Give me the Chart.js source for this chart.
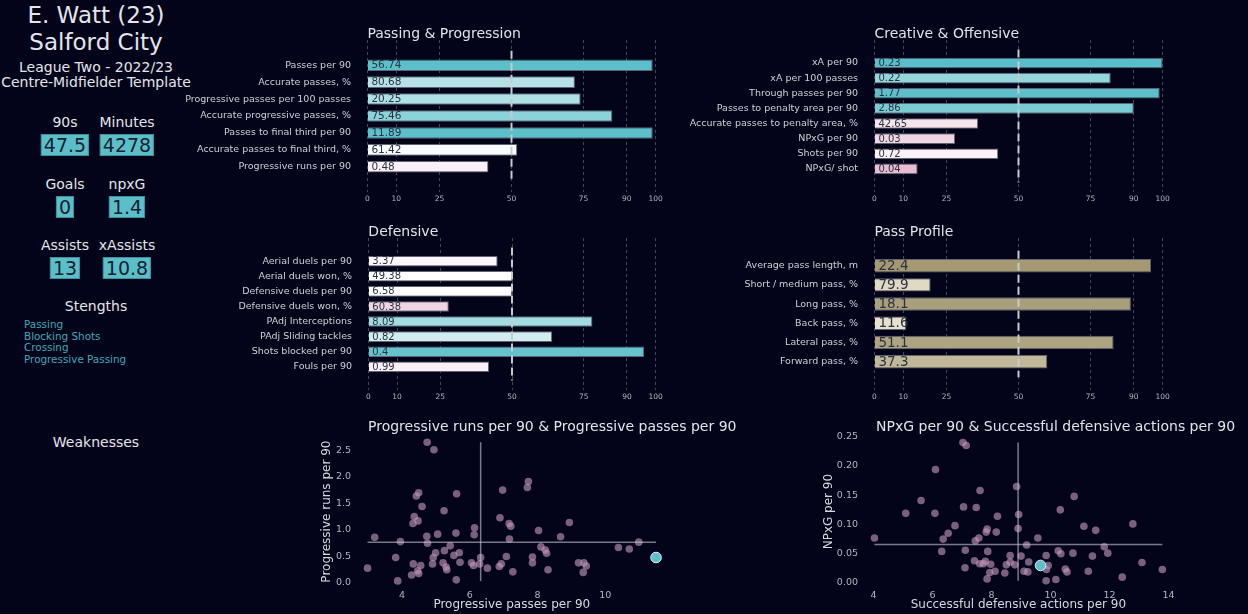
<!DOCTYPE html>
<html lang="en">
<head>
<meta charset="UTF-8">
<title>E. Watt - Salford City</title>
<script src="https://cdn.jsdelivr.net/npm/chart.js"></script>
<style>
  body { margin: 0; background: #03041a; }
  #page {
    position: relative;
    width: 1248px;
    height: 614px;
    background: #03041a;
    font-family: 'DejaVu Sans', sans-serif;
    color: #e4e4ea;
    overflow: hidden;
  }
  /* centred text blocks on the left */
  .c { position: absolute; transform: translate(-50%, -50%); white-space: nowrap; }
  .big { font-size: 23px; }
  .mid { font-size: 14px; }
  .box {
    background: #5bbfca;
    color: #1a2132;
    font-size: 19px;
    line-height: 20px;
    padding: 0 2px;
    border: 1px solid #3f8f99;
  }
  #strengths {
    position: absolute;
    left: 24px;
    top: 319px;
    font-size: 10.4px;
    line-height: 11.7px;
    color: #3fa9b6;
  }
  canvas { position: absolute; }
</style>
</head>
<body>
<div id="page">
  <div class="c big" style="left:96px;top:15px">E. Watt (23)</div>
  <div class="c big" style="left:96px;top:42px">Salford City</div>
  <div class="c mid" style="left:96px;top:67px">League Two - 2022/23</div>
  <div class="c mid" style="left:96px;top:82px">Centre-Midfielder Template</div>

  <div class="c mid" style="left:65px;top:122px">90s</div>
  <div class="c mid" style="left:127px;top:122px">Minutes</div>
  <div class="c box" style="left:65px;top:145px">47.5</div>
  <div class="c box" style="left:127px;top:145px">4278</div>

  <div class="c mid" style="left:65px;top:184px">Goals</div>
  <div class="c mid" style="left:127px;top:184px">npxG</div>
  <div class="c box" style="left:65px;top:207px">0</div>
  <div class="c box" style="left:127px;top:207px">1.4</div>

  <div class="c mid" style="left:65px;top:245px">Assists</div>
  <div class="c mid" style="left:127px;top:245px">xAssists</div>
  <div class="c box" style="left:65px;top:268px">13</div>
  <div class="c box" style="left:127px;top:268px">10.8</div>

  <div class="c mid" style="left:96px;top:306px">Stengths</div>
  <div id="strengths">Passing<br>Blocking Shots<br>Crossing<br>Progressive Passing</div>
  <div class="c mid" style="left:96px;top:442px">Weaknesses</div>

  <canvas id="passing" width="510" height="195" style="left:180px;top:15px"></canvas>
  <canvas id="creative" width="510" height="195" style="left:680px;top:15px"></canvas>
  <canvas id="defensive" width="510" height="195" style="left:180px;top:215px"></canvas>
  <canvas id="profile" width="510" height="195" style="left:680px;top:215px"></canvas>
  <canvas id="runsPasses" width="450" height="204" style="left:310px;top:410px"></canvas>
  <canvas id="npxgDef" width="448" height="204" style="left:800px;top:410px"></canvas>
</div>

<script>
  // ---- data ----
  const pctTicks = [0, 10, 25, 50, 75, 90, 100];

  const passingLabels = ['Passes per 90', 'Accurate passes, %', 'Progressive passes per 100 passes',
    'Accurate progressive passes, %', 'Passes to final third per 90', 'Accurate passes to final third, %',
    'Progressive runs per 90'];
  const passingValues = ['56.74', '80.68', '20.25', '75.46', '11.89', '61.42', '0.48'];
  const passingPct = [99, 72, 74, 85, 99, 52, 42];

  const creativeLabels = ['xA per 90', 'xA per 100 passes', 'Through passes per 90', 'Passes to penalty area per 90',
    'Accurate passes to penalty area, %', 'NPxG per 90', 'Shots per 90', 'NPxG/ shot'];
  const creativeValues = ['0.23', '0.22', '1.77', '2.86', '42.65', '0.03', '0.72', '0.04'];
  const creativePct = [100, 82, 99, 90, 36, 28, 43, 15];

  const defensiveLabels = ['Aerial duels per 90', 'Aerial duels won, %', 'Defensive duels per 90',
    'Defensive duels won, %', 'PAdj Interceptions', 'PAdj Sliding tackles', 'Shots blocked per 90', 'Fouls per 90'];
  const defensiveValues = ['3.37', '49.38', '6.58', '60.38', '8.09', '0.82', '0.4', '0.99'];
  const defensivePct = [45, 50, 50, 28, 78, 64, 96, 42];

  const profileLabels = ['Average pass length, m', 'Short / medium pass, %', 'Long pass, %',
    'Back pass, %', 'Lateral pass, %', 'Forward pass, %'];
  const profileValues = ['22.4', '79.9', '18.1', '11.6', '51.1', '37.3'];
  const profilePct = [96, 19.5, 89, 11, 83, 60];

  // progressive passes (x) vs progressive runs (y), league players
  const progPassesX = [4.74, 4.94, 7.73, 7.70, 6.97, 4.49, 4.42, 5.61, 4.59, 5.24,
    4.36, 4.47, 4.32, 6.89, 7.16, 7.21, 8.94, 6.14, 8.03, 6.13,
    3.19, 4.73, 5.05, 5.59, 8.68, 7.17, 3.95, 4.75, 10.99, 10.39,
    10.71, 5.42, 8.10, 8.23, 8.27, 5.25, 4.99, 5.69, 5.53, 3.81,
    4.92, 6.32, 7.08, 7.85, 4.90, 5.21, 5.71, 6.05, 6.11, 6.29,
    6.93, 6.87, 7.85, 9.21, 9.37, 9.44, 9.35, 4.33, 4.55, 4.46,
    4.49, 4.28, 2.98, 5.30, 5.32, 6.52, 7.27, 8.31, 3.87, 5.60];
  const progRunsY = [2.65, 2.51, 1.91, 1.80, 1.75, 1.70, 1.64, 1.68, 1.44, 1.36,
    1.25, 1.17, 1.12, 1.23, 1.12, 1.07, 1.14, 1.04, 0.99, 0.91,
    0.86, 0.88, 0.92, 0.94, 0.87, 0.83, 0.78, 0.75, 0.77, 0.67,
    0.64, 0.70, 0.68, 0.62, 0.56, 0.61, 0.57, 0.57, 0.52, 0.48,
    0.48, 0.48, 0.50, 0.49, 0.36, 0.38, 0.39, 0.38, 0.33, 0.36,
    0.36, 0.31, 0.38, 0.38, 0.38, 0.32, 0.20, 0.36, 0.33, 0.23,
    0.18, 0.15, 0.28, 0.30, 0.25, 0.28, 0.21, 0.25, 0.04, 0.06];
  const playerProgPasses = 11.5;
  const playerProgRuns = 0.48;
  const avgProgPasses = 6.32;
  const avgProgRuns = 0.77;
  const progPassesTicks = [4, 6, 8, 10];
  const progRunsTicks = [0, 0.5, 1, 1.5, 2, 2.5];

  // successful defensive actions (x) vs NPxG (y)
  const defActionsX = [7.03, 7.14, 6.10, 8.85, 7.61, 10.80, 5.61, 5.09, 6.08, 7.05,
    7.48, 10.33, 8.20, 8.92, 6.76, 11.13, 11.53, 12.79, 7.85, 7.82,
    8.16, 8.90, 6.53, 6.36, 7.57, 9.57, 4.03, 7.45, 9.19, 11.82,
    7.11, 6.31, 7.87, 10.26, 10.35, 10.76, 11.94, 11.42, 8.63, 9.00,
    9.85, 7.42, 7.79, 7.60, 7.72, 7.97, 8.50, 8.63, 8.79, 9.26,
    9.92, 13.10, 7.10, 10.50, 10.56, 13.79, 8.12, 7.94, 8.45, 9.10,
    9.23, 9.86, 11.28, 7.85, 9.85, 10.18, 12.43];
  const npxgY = [0.240, 0.235, 0.194, 0.165, 0.158, 0.148, 0.141, 0.119, 0.119, 0.130,
    0.129, 0.125, 0.114, 0.117, 0.098, 0.097, 0.090, 0.101, 0.092, 0.087,
    0.087, 0.093, 0.085, 0.075, 0.077, 0.077, 0.077, 0.072, 0.065, 0.062,
    0.056, 0.054, 0.054, 0.055, 0.050, 0.051, 0.051, 0.046, 0.047, 0.046,
    0.047, 0.038, 0.037, 0.033, 0.033, 0.032, 0.031, 0.036, 0.031, 0.036,
    0.030, 0.035, 0.026, 0.024, 0.019, 0.023, 0.020, 0.018, 0.017, 0.020,
    0.019, 0.023, 0.020, 0.007, 0.004, 0.006, 0.010];
  const playerDefActions = 9.66;
  const playerNpxg = 0.030;
  const avgDefActions = 8.9;
  const avgNpxg = 0.066;
  const defActionsTicks = [4, 6, 8, 10, 12, 14];
  const npxgTicks = [0, 0.05, 0.1, 0.15, 0.2, 0.25];

  // ---- styling helpers ----
  Chart.defaults.font.family = "'DejaVu Sans', sans-serif";
  Chart.defaults.color = '#c4c5cc';

  function mix(a, b, t) {
    return a.map((v, i) => Math.round(v + (b[i] - v) * t));
  }
  // pink -> white -> teal depending on percentile
  function divergingColor(p) {
    const pink = [222, 159, 191], white = [255, 255, 255], teal = [89, 190, 201];
    const c = p < 50 ? mix(pink, white, p / 50) : mix(white, teal, (p - 50) / 50);
    return `rgb(${c})`;
  }
  // cream -> khaki for the pass profile
  function profileColor(p) {
    return `rgb(${mix([239, 235, 217], [162, 150, 112], p / 100)})`;
  }

  // panel title drawn above the plot, starting at the 0 tick
  const panelTitle = {
    id: 'panelTitle',
    afterDraw(chart, args, opts) {
      if (!opts.text) return;
      const { ctx } = chart;
      ctx.save();
      ctx.font = `${opts.size || 14}px 'DejaVu Sans'`;
      ctx.fillStyle = '#e2e3e8';
      ctx.textBaseline = 'middle';
      const x = opts.x != null ? opts.x : chart.scales.x.getPixelForValue(0);
      const y = opts.y != null ? opts.y : chart.chartArea.top - 6;
      ctx.fillText(opts.text, x, y);
      ctx.restore();
    }
  };

  // raw stat value written inside each bar
  const valueLabels = {
    id: 'valueLabels',
    afterDatasetsDraw(chart, args, opts) {
      const { ctx, scales: { x, y } } = chart;
      ctx.save();
      ctx.font = `${opts.size}px 'DejaVu Sans'`;
      ctx.fillStyle = '#2c3241';
      ctx.textBaseline = 'middle';
      opts.values.forEach((v, i) => {
        ctx.fillText(v, x.getPixelForValue(0) + 4, y.getPixelForValue(i) + 0.5);
      });
      ctx.restore();
    }
  };

  function pctBarChart(id, title, labels, values, pct, colorFn, o) {
    const rows = labels.map((_, i) => i);
    return new Chart(document.getElementById(id), {
      type: 'bar',
      data: {
        datasets: [
          {
            type: 'line',
            data: [{ x: 50, y: o.yMin }, { x: 50, y: o.yMax }],
            borderColor: '#c9c9cd',
            borderWidth: 2,
            borderDash: [8, 4],
            pointRadius: 0,
            order: 0
          },
          {
            type: 'bar',
            data: pct.map((p, i) => ({ x: p, y: i })),
            backgroundColor: pct.map(colorFn),
            borderColor: '#5d6472',
            borderWidth: 1,
            barPercentage: o.barPct,
            categoryPercentage: 1,
            order: 1
          }
        ]
      },
      options: {
        indexAxis: 'y',
        responsive: false,
        animation: false,
        layout: { padding: { top: o.top, right: o.right, left: 0, bottom: 0 } },
        scales: {
          x: {
            type: 'linear',
            min: -5,
            max: 105,
            afterBuildTicks: s => { s.ticks = pctTicks.map(v => ({ value: v })); },
            afterFit: s => { s.height = o.xh; },
            grid: { color: 'rgba(150,152,165,0.45)', lineWidth: 1, drawTicks: false },
            border: { display: false, dash: [3, 3] },
            ticks: { color: '#b4b5bd', font: { size: 7.5 }, padding: 3 }
          },
          y: {
            type: 'linear',
            reverse: true,
            min: o.yMin,
            max: o.yMax,
            afterBuildTicks: s => { s.ticks = rows.map(v => ({ value: v })); },
            afterFit: s => { s.width = o.yw; },
            grid: { display: false, drawTicks: false },
            border: { display: false },
            ticks: {
              autoSkip: false,
              callback: v => labels[v],
              color: '#cfd0d6',
              font: { size: 9.5 },
              padding: 2
            }
          }
        },
        plugins: {
          legend: { display: false },
          tooltip: { enabled: false },
          panelTitle: { text: title },
          valueLabels: { values: values, size: o.valSize }
        }
      },
      plugins: [panelTitle, valueLabels]
    });
  }

  function scatterChart(id, title, xs, ys, px, py, xAvg, yAvg, xTicks, yTicks, yDigits, axisTitles, o) {
    const xMin = Math.min(...xs, px), xMax = Math.max(...xs, px);
    const yMin = Math.min(...ys, py), yMax = Math.max(...ys, py);
    const refLine = {
      type: 'line',
      borderColor: 'rgba(200,200,212,0.6)',
      borderWidth: 1.5,
      pointRadius: 0,
      order: 1
    };
    return new Chart(document.getElementById(id), {
      type: 'scatter',
      data: {
        datasets: [
          {
            data: xs.map((x, i) => ({ x: x, y: ys[i] })),
            backgroundColor: 'rgba(196,152,190,0.62)',
            borderWidth: 0,
            pointRadius: 3.8,
            order: 2
          },
          Object.assign({ data: [{ x: xMin, y: yAvg }, { x: xMax, y: yAvg }] }, refLine),
          Object.assign({ data: [{ x: xAvg, y: yMin }, { x: xAvg, y: yMax }] }, refLine),
          {
            data: [{ x: px, y: py }],
            backgroundColor: '#5cc1cc',
            borderColor: '#e3f3f5',
            borderWidth: 1,
            pointRadius: 5.3,
            order: 0
          }
        ]
      },
      options: {
        responsive: false,
        animation: false,
        layout: { padding: { top: o.top, right: o.right, left: 0, bottom: 0 } },
        scales: {
          x: {
            min: o.xRange[0],
            max: o.xRange[1],
            afterBuildTicks: s => { s.ticks = xTicks.map(v => ({ value: v })); },
            afterFit: s => { s.height = o.xh; },
            grid: { display: false, drawTicks: false },
            border: { display: false },
            ticks: { color: '#b4b5bd', font: { size: 9.5 }, padding: 2 },
            title: { display: true, text: axisTitles[0], color: '#d8d9df', font: { size: 12 }, padding: { top: 0, bottom: 2 } }
          },
          y: {
            min: o.yRange[0],
            max: o.yRange[1],
            afterBuildTicks: s => { s.ticks = yTicks.map(v => ({ value: v })); },
            afterFit: s => { s.width = o.yw; },
            grid: { display: false, drawTicks: false },
            border: { display: false },
            ticks: { color: '#b4b5bd', font: { size: 9.5 }, padding: 2, callback: v => v.toFixed(yDigits) },
            title: { display: true, text: axisTitles[1], color: '#d8d9df', font: { size: 12 }, padding: { top: o.yTitlePad, bottom: 0 } }
          }
        },
        plugins: {
          legend: { display: false },
          tooltip: { enabled: false },
          panelTitle: { text: title, x: o.titleX, y: 17 }
        }
      },
      plugins: [panelTitle]
    });
  }

  pctBarChart('passing', 'Passing & Progression', passingLabels, passingValues, passingPct, divergingColor,
    { yMin: -0.845, yMax: 6.845, barPct: 0.68, top: 25, right: 20, xh: 18, yw: 173, valSize: 10.5 });
  pctBarChart('creative', 'Creative & Offensive', creativeLabels, creativeValues, creativePct, divergingColor,
    { yMin: -0.89, yMax: 7.9, barPct: 0.7, top: 25, right: 13, xh: 18, yw: 180, valSize: 10 });
  pctBarChart('defensive', 'Defensive', defensiveLabels, defensiveValues, defensivePct, divergingColor,
    { yMin: -0.91, yMax: 7.91, barPct: 0.7, top: 23, right: 20, xh: 20, yw: 174, valSize: 10 });
  pctBarChart('profile', 'Pass Profile', profileLabels, profileValues, profilePct, profileColor,
    { yMin: -0.78, yMax: 5.81, barPct: 0.7, top: 23, right: 13, xh: 20, yw: 180, valSize: 13.5 });

  scatterChart('runsPasses', 'Progressive runs per 90 & Progressive passes per 90',
    progPassesX, progRunsY, playerProgPasses, playerProgRuns, avgProgPasses, avgProgRuns,
    progPassesTicks, progRunsTicks, 1, ['Progressive passes per 90', 'Progressive runs per 90'],
    { xRange: [2.55, 11.93], yRange: [-0.09, 2.78], top: 25.4, right: 89.4, xh: 26.2, yw: 43, yTitlePad: 10, titleX: 58 });
  scatterChart('npxgDef', 'NPxG per 90 & Successful defensive actions per 90',
    defActionsX, npxgY, playerDefActions, playerNpxg, avgDefActions, avgNpxg,
    defActionsTicks, npxgTicks, 2, ['Successful defensive actions per 90', 'NPxG per 90'],
    { xRange: [3.54, 14.28], yRange: [-0.008, 0.252], top: 25.5, right: 71.2, xh: 26.3, yw: 60, yTitlePad: 22, titleX: 76 });
</script>
</body>
</html>
